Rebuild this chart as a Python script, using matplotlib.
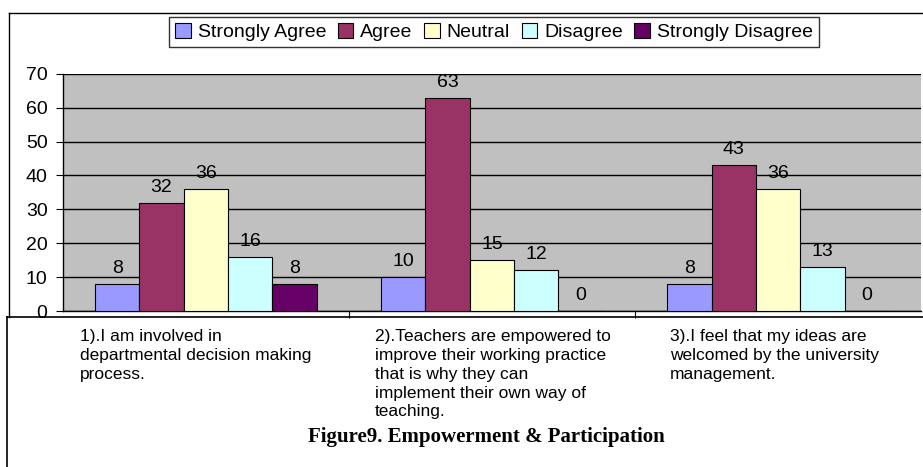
import matplotlib.pyplot as plt
import numpy as np
from matplotlib.lines import Line2D

categories = [
    "1).I am involved in\ndepartmental decision making\nprocess.",
    "2).Teachers are empowered to\nimprove their working practice\nthat is why they can\nimplement their own way of\nteaching.",
    "3).I feel that my ideas are\nwelcomed by the university\nmanagement.",
]
series_names = ["Strongly Agree", "Agree", "Neutral", "Disagree", "Strongly Disagree"]
strongly_agree = [8, 10, 8]
agree = [32, 63, 43]
neutral = [36, 15, 36]
disagree = [16, 12, 13]
strongly_disagree = [8, 0, 0]
colors = ["#9999FF", "#993366", "#FFFFCC", "#CCFFFF", "#660066"]
yticks = [0, 10, 20, 30, 40, 50, 60, 70]

plt.rcParams['font.family'] = ['Liberation Sans', 'DejaVu Sans']

W, H = 923, 467
fig = plt.figure(figsize=(9.23, 4.67), dpi=100)
ax = fig.add_axes([0.068, 0.334, 0.930, 0.508])
ax.set_facecolor("#C0C0C0")

x = np.arange(len(categories))
width = 0.155
all_series = [strongly_agree, agree, neutral, disagree, strongly_disagree]
for i, (vals, name, col) in enumerate(zip(all_series, series_names, colors)):
    pos = x + (i - 2) * width
    bars = ax.bar(pos, vals, width, color=col, edgecolor="black", linewidth=0.8,
                  label=name, zorder=3)
    for b, v in zip(bars, vals):
        ax.annotate(str(v), (b.get_x() + b.get_width() / 2, v),
                    xytext=(0, 5), textcoords="offset points",
                    ha="center", va="bottom", fontsize=14, zorder=4)

ax.set_xlim(-0.5, 2.5)
ax.set_ylim(0, 70)
ax.set_yticks(yticks)
ax.yaxis.grid(True, color="black", linewidth=1, zorder=1)
ax.set_xticks([0.5, 1.5])
ax.set_xticklabels([])
ax.tick_params(axis="x", length=5, direction="out")
ax.tick_params(axis="y", labelsize=14, length=5, direction="out", pad=6)
for s in ["top", "right"]:
    ax.spines[s].set_visible(False)
ax.spines["left"].set_linewidth(1)
ax.spines["bottom"].set_linewidth(1)

leg = fig.legend(*ax.get_legend_handles_labels(), loc="center",
                 bbox_to_anchor=(494 / W, 1 - 32 / H), ncol=5,
                 frameon=True, fancybox=False, edgecolor="black", fontsize=14,
                 handlelength=0.8, handleheight=0.8, handletextpad=0.35,
                 columnspacing=0.6, borderpad=0.3, borderaxespad=0)
leg.get_frame().set_linewidth(1)

# outer chart border and bottom text box
fig.add_artist(Line2D([9 / W, 1], [1 - 13 / H, 1 - 13 / H], color="black", lw=1))
fig.add_artist(Line2D([9 / W, 9 / W], [1 - 13 / H, 1 - 317 / H], color="black", lw=1))
fig.add_artist(Line2D([7 / W, 1], [1 - 317 / H, 1 - 317 / H], color="black", lw=1.2))
fig.add_artist(Line2D([7 / W, 7 / W], [1 - 317 / H, 0], color="black", lw=1.2))

label_x = [80, 375, 670]
for lx, txt in zip(label_x, categories):
    fig.text(lx / W, 1 - 329 / H, txt, ha="left", va="top", fontsize=12.5,
             linespacing=1.32)

fig.text(486 / W, 1 - 437 / H, "Figure9. Empowerment & Participation",
         ha="center", va="center", fontsize=15, fontweight="bold",
         family="Liberation Serif")

fig.savefig("out.png", dpi=100)
